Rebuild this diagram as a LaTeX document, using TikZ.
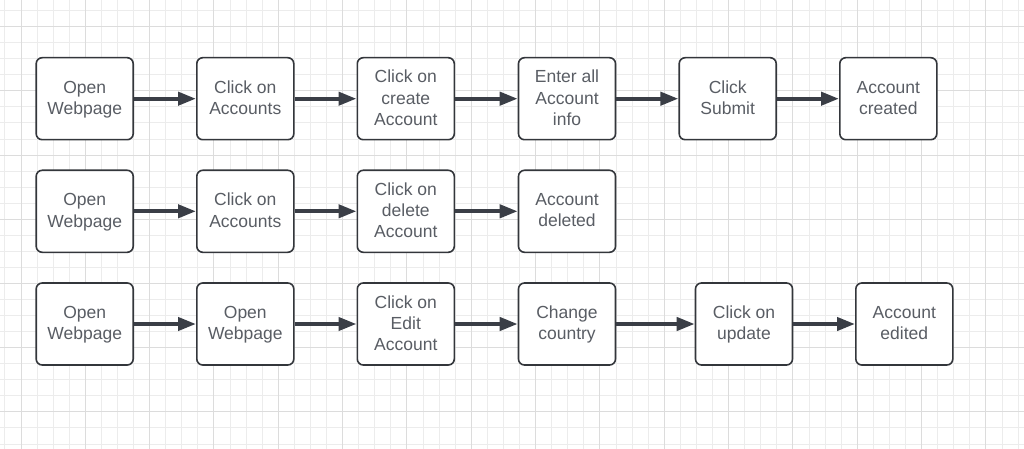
\documentclass[tikz,border=0pt]{standalone}
\usepackage{fontspec}
\setmainfont{Liberation Sans}
\usetikzlibrary{arrows.meta}

\definecolor{boxline}{HTML}{33363B}
\definecolor{boxtext}{HTML}{595D64}
\definecolor{flowline}{HTML}{3A3E46}
\definecolor{gridminor}{HTML}{ECECEC}
\definecolor{gridmajor}{HTML}{DCDCDC}

\begin{document}
\begin{tikzpicture}[x=1pt, y=-1pt,
    stepbox/.style={rectangle, draw=boxline, line width=1.6pt, rounded corners=6pt,
        fill=white, minimum width=97pt, minimum height=82pt, inner sep=0pt,
        align=center, text=boxtext, text depth=2pt, font=\fontsize{17.5}{21.3}\selectfont},
    flow/.style={draw=flowline, line width=4pt, -{Triangle[length=18pt,width=13pt]}},
    fine/.style={draw=gridminor, line width=1pt},
    coarse/.style={draw=gridmajor, line width=1pt}]

        % Background grid
        \fill[white] (0,0) rectangle (1024,449);
        \useasboundingbox (0,0) rectangle (1024,449);
        \foreach \i in {-1,...,62} \draw[fine] ({21+\i*16.083},0) -- ({21+\i*16.083},449);
        \foreach \j in {-1,...,26} \draw[fine] (0,{26.7+\j*16.05}) -- (1024,{26.7+\j*16.05});
        \foreach \i in {0,...,15} \draw[coarse] ({21+\i*64.33},0) -- ({21+\i*64.33},449);
        \foreach \j in {0,...,6} \draw[coarse] (0,{26.7+\j*64.2}) -- (1024,{26.7+\j*64.2});

        % Nodes: create account
        \node (c1) [stepbox] at (84.7,98.7) {Open\\Webpage};
        \node (c2) [stepbox] at (245.3,98.7) {Click on\\Accounts};
        \node (c3) [stepbox] at (405.8,98.7) {Click on\\create\\Account};
        \node (c4) [stepbox] at (567,98.7) {Enter all\\Account\\info};
        \node (c5) [stepbox] at (727.7,98.7) {Click\\Submit};
        \node (c6) [stepbox] at (888.3,98.7) {Account\\created};

        % Nodes: delete account
        \node (d1) [stepbox] at (84.7,211.3) {Open\\Webpage};
        \node (d2) [stepbox] at (245.3,211.3) {Click on\\Accounts};
        \node (d3) [stepbox] at (405.8,211.3) {Click on\\delete\\Account};
        \node (d4) [stepbox] at (567,211.3) {Account\\deleted};

        % Nodes: edit account
        \node (e1) [stepbox] at (84.7,324) {Open\\Webpage};
        \node (e2) [stepbox] at (245.3,324) {Open\\Webpage};
        \node (e3) [stepbox] at (405.8,324) {Click on\\Edit\\Account};
        \node (e4) [stepbox] at (567,324) {Change\\country};
        \node (e5) [stepbox] at (744,324) {Click on\\update};
        \node (e6) [stepbox] at (904.3,324) {Account\\edited};

        % Edges
        \draw[flow] (c1) -- (c2);
        \draw[flow] (c2) -- (c3);
        \draw[flow] (c3) -- (c4);
        \draw[flow] (c4) -- (c5);
        \draw[flow] (c5) -- (c6);

        \draw[flow] (d1) -- (d2);
        \draw[flow] (d2) -- (d3);
        \draw[flow] (d3) -- (d4);

        \draw[flow] (e1) -- (e2);
        \draw[flow] (e2) -- (e3);
        \draw[flow] (e3) -- (e4);
        \draw[flow] (e4) -- (e5);
        \draw[flow] (e5) -- (e6);

    \end{tikzpicture}
\end{document}
